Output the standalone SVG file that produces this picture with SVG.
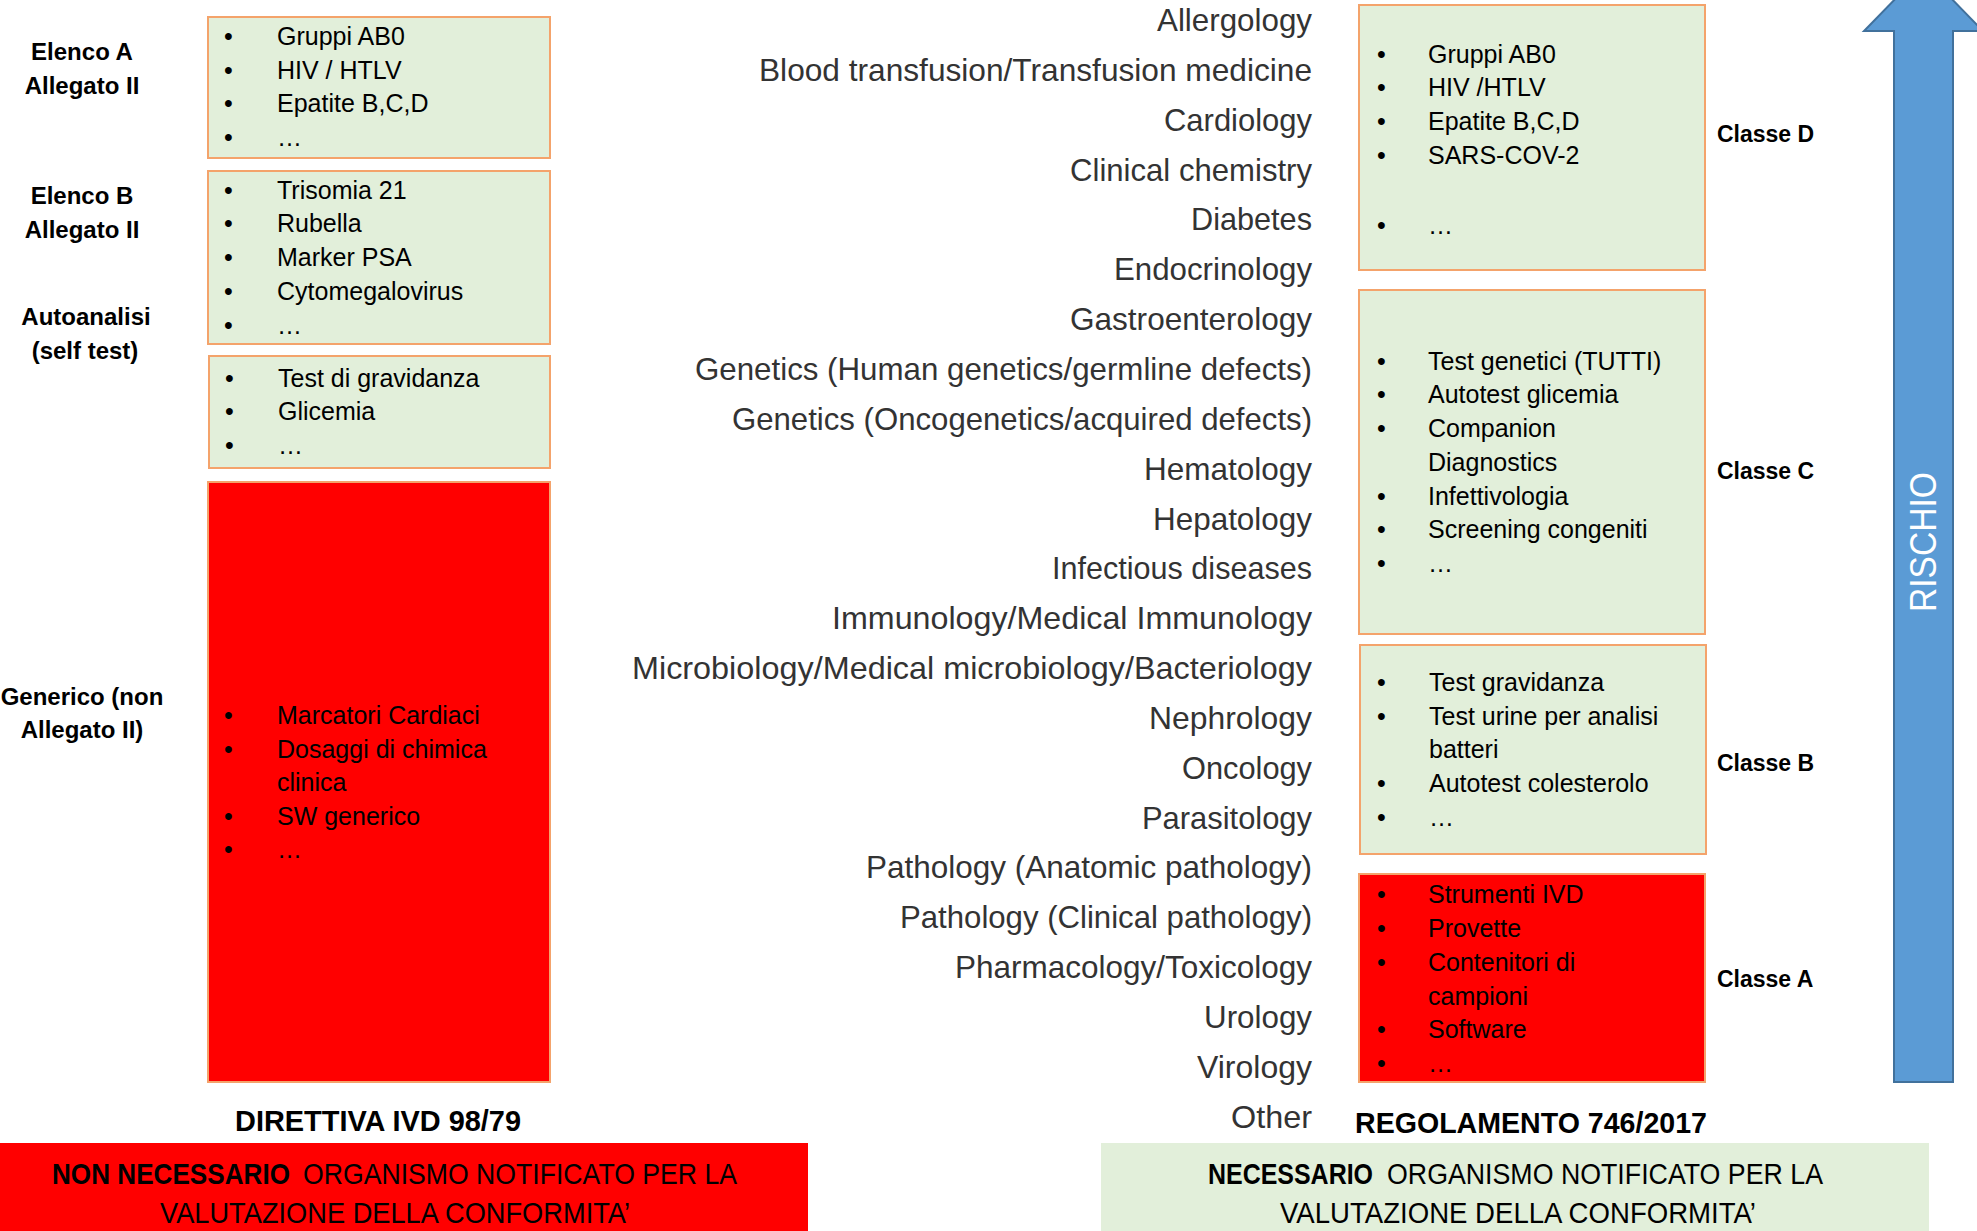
<svg xmlns="http://www.w3.org/2000/svg" width="1977" height="1231" viewBox="0 0 1977 1231">
<style>
  text { font-family: "Liberation Sans", Arial, sans-serif; fill: #000; }
  .lbl { font-size: 24px; font-weight: bold; text-anchor: middle; }
  .cls { font-size: 23px; font-weight: bold; }
  .itm { font-size: 25px; }
  .lst { font-size: 32px; fill: #333; text-anchor: end; }
  .green { fill: #E2EFDA; stroke: #F4A36B; stroke-width: 2; }
  .red { fill: #FF0000; stroke: #F4A36B; stroke-width: 2; }
  .ttl { font-size: 30px; font-weight: bold; text-anchor: middle; }
  .ban { font-size: 30px; }
  .mid { text-anchor: middle; }
  .end { text-anchor: end; }
  .b { font-weight: bold; }
</style>
<rect width="1977" height="1231" fill="#fff"/>

<g id="left-labels">
  <text class="lbl" x="82" y="60">Elenco A</text>
  <text class="lbl" x="82" y="94">Allegato II</text>
  <text class="lbl" x="82" y="204">Elenco B</text>
  <text class="lbl" x="82" y="238">Allegato II</text>
  <text class="lbl" x="86" y="325">Autoanalisi</text>
  <text class="lbl" x="85" y="359">(self test)</text>
  <text class="lbl" x="82" y="705">Generico (non</text>
  <text class="lbl" x="82" y="738">Allegato II)</text>
</g>

<g id="box-elenco-a">
  <rect class="green" x="208" y="17" width="342" height="141"/>
  <g class="itm">
    <text x="224" y="45">•</text><text x="277" y="45">Gruppi AB0</text>
    <text x="224" y="79">•</text><text x="277" y="79">HIV / HTLV</text>
    <text x="224" y="112">•</text><text x="277" y="112">Epatite B,C,D</text>
    <text x="224" y="146">•</text><text x="277" y="146">…</text>
  </g>
</g>

<g id="box-elenco-b">
  <rect class="green" x="208" y="171" width="342" height="173"/>
  <g class="itm">
    <text x="224" y="199">•</text><text x="277" y="199">Trisomia 21</text>
    <text x="224" y="232">•</text><text x="277" y="232">Rubella</text>
    <text x="224" y="266">•</text><text x="277" y="266">Marker PSA</text>
    <text x="224" y="300">•</text><text x="277" y="300">Cytomegalovirus</text>
    <text x="224" y="334">•</text><text x="277" y="334">…</text>
  </g>
</g>

<g id="box-self-test">
  <rect class="green" x="209" y="356" width="341" height="112"/>
  <g class="itm">
    <text x="225" y="387">•</text><text x="278" y="387">Test di gravidanza</text>
    <text x="225" y="420">•</text><text x="278" y="420">Glicemia</text>
    <text x="225" y="454">•</text><text x="278" y="454">…</text>
  </g>
</g>

<g id="box-generico">
  <rect class="red" x="208" y="482" width="342" height="600"/>
  <g class="itm">
    <text x="224" y="724">•</text><text x="277" y="724">Marcatori Cardiaci</text>
    <text x="224" y="758">•</text><text x="277" y="758">Dosaggi di chimica</text>
    <text x="277" y="791">clinica</text>
    <text x="224" y="825">•</text><text x="277" y="825">SW generico</text>
    <text x="224" y="858">•</text><text x="277" y="858">…</text>
  </g>
</g>

<g id="title-direttiva">
  <text class="ttl" x="378" y="1131" textLength="286" lengthAdjust="spacingAndGlyphs">DIRETTIVA IVD 98/79</text>
</g>

<g id="banner-non-necessario">
  <rect x="0" y="1143" width="808" height="88" fill="#FF0000"/>
  <text class="ban b end" x="290" y="1184" textLength="238" lengthAdjust="spacingAndGlyphs">NON NECESSARIO</text>
  <text class="ban" x="303" y="1184" textLength="434" lengthAdjust="spacingAndGlyphs">ORGANISMO NOTIFICATO PER LA</text>
  <text class="ban mid" x="395" y="1223" textLength="470" lengthAdjust="spacingAndGlyphs">VALUTAZIONE DELLA CONFORMITA’</text>
</g>

<g id="specialties-list">
  <text class="lst" x="1312" y="31" textLength="155" lengthAdjust="spacingAndGlyphs">Allergology</text>
  <text class="lst" x="1312" y="81" textLength="553" lengthAdjust="spacingAndGlyphs">Blood transfusion/Transfusion medicine</text>
  <text class="lst" x="1312" y="131" textLength="148" lengthAdjust="spacingAndGlyphs">Cardiology</text>
  <text class="lst" x="1312" y="181" textLength="242" lengthAdjust="spacingAndGlyphs">Clinical chemistry</text>
  <text class="lst" x="1312" y="230" textLength="121" lengthAdjust="spacingAndGlyphs">Diabetes</text>
  <text class="lst" x="1312" y="280" textLength="198" lengthAdjust="spacingAndGlyphs">Endocrinology</text>
  <text class="lst" x="1312" y="330" textLength="242" lengthAdjust="spacingAndGlyphs">Gastroenterology</text>
  <text class="lst" x="1312" y="380" textLength="617" lengthAdjust="spacingAndGlyphs">Genetics (Human genetics/germline defects)</text>
  <text class="lst" x="1312" y="430" textLength="580" lengthAdjust="spacingAndGlyphs">Genetics (Oncogenetics/acquired defects)</text>
  <text class="lst" x="1312" y="480" textLength="168" lengthAdjust="spacingAndGlyphs">Hematology</text>
  <text class="lst" x="1312" y="530" textLength="159" lengthAdjust="spacingAndGlyphs">Hepatology</text>
  <text class="lst" x="1312" y="579" textLength="260" lengthAdjust="spacingAndGlyphs">Infectious diseases</text>
  <text class="lst" x="1312" y="629" textLength="480" lengthAdjust="spacingAndGlyphs">Immunology/Medical Immunology</text>
  <text class="lst" x="1312" y="679" textLength="680" lengthAdjust="spacingAndGlyphs">Microbiology/Medical microbiology/Bacteriology</text>
  <text class="lst" x="1312" y="729" textLength="163" lengthAdjust="spacingAndGlyphs">Nephrology</text>
  <text class="lst" x="1312" y="779" textLength="130" lengthAdjust="spacingAndGlyphs">Oncology</text>
  <text class="lst" x="1312" y="829" textLength="170" lengthAdjust="spacingAndGlyphs">Parasitology</text>
  <text class="lst" x="1312" y="878" textLength="446" lengthAdjust="spacingAndGlyphs">Pathology (Anatomic pathology)</text>
  <text class="lst" x="1312" y="928" textLength="412" lengthAdjust="spacingAndGlyphs">Pathology (Clinical pathology)</text>
  <text class="lst" x="1312" y="978" textLength="357" lengthAdjust="spacingAndGlyphs">Pharmacology/Toxicology</text>
  <text class="lst" x="1312" y="1028" textLength="108" lengthAdjust="spacingAndGlyphs">Urology</text>
  <text class="lst" x="1312" y="1078" textLength="115" lengthAdjust="spacingAndGlyphs">Virology</text>
  <text class="lst" x="1312" y="1128" textLength="81" lengthAdjust="spacingAndGlyphs">Other</text>
</g>

<g id="box-classe-d">
  <rect class="green" x="1359" y="5" width="346" height="265"/>
  <g class="itm">
    <text x="1377" y="63">•</text><text x="1428" y="63">Gruppi AB0</text>
    <text x="1377" y="96">•</text><text x="1428" y="96">HIV /HTLV</text>
    <text x="1377" y="130">•</text><text x="1428" y="130">Epatite B,C,D</text>
    <text x="1377" y="164">•</text><text x="1428" y="164">SARS-COV-2</text>
    <text x="1377" y="234">•</text><text x="1428" y="234">…</text>
  </g>
  <text class="cls" x="1717" y="142">Classe D</text>
</g>

<g id="box-classe-c">
  <rect class="green" x="1359" y="290" width="346" height="344"/>
  <g class="itm">
    <text x="1377" y="370">•</text><text x="1428" y="370">Test genetici (TUTTI)</text>
    <text x="1377" y="403">•</text><text x="1428" y="403">Autotest glicemia</text>
    <text x="1377" y="437">•</text><text x="1428" y="437">Companion</text>
    <text x="1428" y="471">Diagnostics</text>
    <text x="1377" y="505">•</text><text x="1428" y="505">Infettivologia</text>
    <text x="1377" y="538">•</text><text x="1428" y="538">Screening congeniti</text>
    <text x="1377" y="572">•</text><text x="1428" y="572">…</text>
  </g>
  <text class="cls" x="1717" y="479">Classe C</text>
</g>

<g id="box-classe-b">
  <rect class="green" x="1360" y="645" width="346" height="209"/>
  <g class="itm">
    <text x="1377" y="691">•</text><text x="1429" y="691">Test gravidanza</text>
    <text x="1377" y="725">•</text><text x="1429" y="725">Test urine per analisi</text>
    <text x="1429" y="758">batteri</text>
    <text x="1377" y="792">•</text><text x="1429" y="792">Autotest colesterolo</text>
    <text x="1377" y="826">•</text><text x="1429" y="826">…</text>
  </g>
  <text class="cls" x="1717" y="771">Classe B</text>
</g>

<g id="box-classe-a">
  <rect class="red" x="1359" y="874" width="346" height="208"/>
  <g class="itm">
    <text x="1377" y="903">•</text><text x="1428" y="903">Strumenti IVD</text>
    <text x="1377" y="937">•</text><text x="1428" y="937">Provette</text>
    <text x="1377" y="971">•</text><text x="1428" y="971">Contenitori di</text>
    <text x="1428" y="1005">campioni</text>
    <text x="1377" y="1038">•</text><text x="1428" y="1038">Software</text>
    <text x="1377" y="1072">•</text><text x="1428" y="1072">…</text>
  </g>
  <text class="cls" x="1717" y="987">Classe A</text>
</g>

<g id="title-regolamento">
  <text class="ttl" x="1531" y="1133" textLength="352" lengthAdjust="spacingAndGlyphs">REGOLAMENTO 746/2017</text>
</g>

<g id="banner-necessario">
  <rect x="1101" y="1143" width="828" height="88" fill="#E2EFDA"/>
  <text class="ban b end" x="1373" y="1184" textLength="165" lengthAdjust="spacingAndGlyphs">NECESSARIO</text>
  <text class="ban" x="1387" y="1184" textLength="436" lengthAdjust="spacingAndGlyphs">ORGANISMO NOTIFICATO PER LA</text>
  <text class="ban mid" x="1518" y="1223" textLength="476" lengthAdjust="spacingAndGlyphs">VALUTAZIONE DELLA CONFORMITA’</text>
</g>

<g id="connectors">
  <g id="rischio-arrow">
    <path d="M1894,1082 L1894,31 L1864,31 L1923.5,-30 L1983,31 L1953,31 L1953,1082 Z" fill="#5B9BD5" stroke="#41719C" stroke-width="2"/>
    <text x="1923" y="542" transform="rotate(-90 1923 542)" text-anchor="middle" dominant-baseline="central" font-size="36" style="fill:#fff" textLength="140" lengthAdjust="spacingAndGlyphs">RISCHIO</text>
  </g>
</g>
</svg>
